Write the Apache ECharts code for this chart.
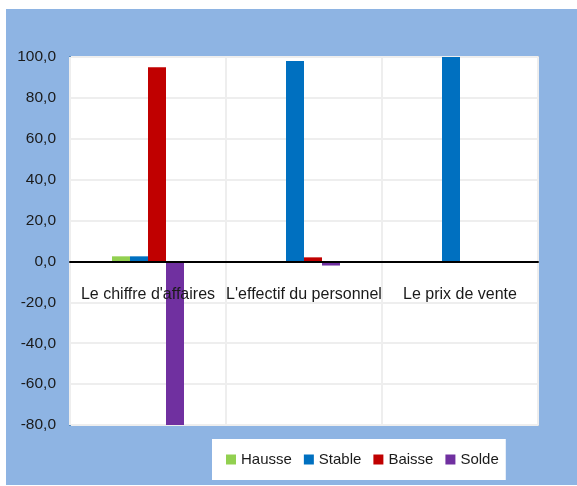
<!DOCTYPE html>
<html>
<head>
<meta charset="utf-8">
<script src="https://cdn.jsdelivr.net/npm/echarts@6/dist/echarts.min.js"></script>
<style>
  html, body { margin: 0; padding: 0; background: #fff; }
  #wrap { position: relative; width: 577px; height: 486px; background: #fff; }
  #chart { position: absolute; left: 6px; top: 9px; width: 571px; height: 476px; }
</style>
</head>
<body>
<div id="wrap"><div id="chart"></div></div>
<script>
var categories = ["Le chiffre d'affaires", "L'effectif du personnel", "Le prix de vente"];
var hausse = [2.5, 0, 0];
var stable = [2.5, 98, 100];
var baisse = [95, 2, 0];
var solde = [-92.5, -2, 0];

var font = "'Liberation Sans', Arial, sans-serif";

function bar(name, data, color) {
  return {
    name: name,
    type: 'bar',
    data: data,
    barWidth: 18,
    barGap: '0%',
    clip: true,
    itemStyle: { color: color }
  };
}

var chart = echarts.init(document.getElementById('chart'));
chart.setOption({
  backgroundColor: '#8EB4E3',
  textStyle: { fontFamily: font },
  grid: {
    left: 64, top: 48, right: 39, bottom: 60,
    show: true,
    backgroundColor: '#ffffff',
    borderColor: '#d4d4d4',
    borderWidth: 2
  },
  legend: {
    left: 206,
    top: 430,
    backgroundColor: '#ffffff',
    padding: [13, 7, 13, 14],
    itemWidth: 10,
    itemHeight: 10,
    itemGap: 12,
    icon: 'rect',
    textStyle: { fontFamily: font, fontSize: 15, color: '#1a1a1a' },
    data: ['Hausse', 'Stable', 'Baisse', 'Solde']
  },
  xAxis: {
    type: 'category',
    data: categories,
    z: 5,
    axisLine: { onZero: true, lineStyle: { color: '#000', width: 2 } },
    axisTick: { show: false },
    axisLabel: { fontFamily: font, fontSize: 16, color: '#1a1a1a', margin: -138, interval: 0 },
    splitLine: { show: true, interval: 0, lineStyle: { color: '#eeeeee', width: 2 } }
  },
  yAxis: {
    type: 'value',
    min: -80,
    max: 100,
    interval: 20,
    axisLine: { show: true, lineStyle: { color: '#2E75B6', width: 2 } },
    axisTick: { show: false },
    axisLabel: {
      fontFamily: font, fontSize: 15.5, color: '#1a1a1a', margin: 14,
      formatter: function (v) { return v.toFixed(1).replace('.', ','); }
    },
    splitLine: { lineStyle: { color: '#eeeeee', width: 2 } }
  },
  series: [
    bar('Hausse', hausse, '#92D050'),
    bar('Stable', stable, '#0070C0'),
    bar('Baisse', baisse, '#C00000'),
    bar('Solde', solde, '#7030A0')
  ]
});
</script>
</body>
</html>
